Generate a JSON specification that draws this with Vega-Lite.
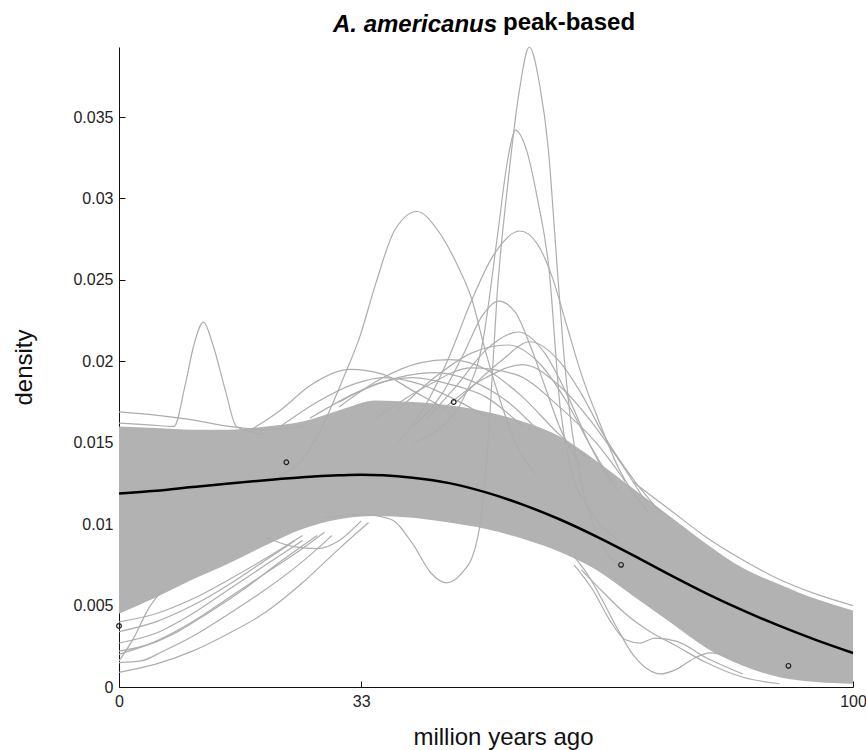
{
  "$schema": "https://vega.github.io/schema/vega-lite/v6.json",
  "width": 734,
  "height": 640,
  "autosize": "none",
  "padding": {"left": 119, "top": 47, "right": 13, "bottom": 63},
  "background": "white",
  "config": {
    "view": {"stroke": null},
    "font": "Liberation Sans",
    "axis": {"grid": false, "domainColor": "#111", "tickColor": "#111", "labelColor": "#222", "titleColor": "#111", "labelFont": "Liberation Sans", "titleFont": "Liberation Sans", "labelFontSize": 16, "titleFontSize": 24, "titleFontWeight": "normal", "tickSize": -6, "labelFlush": false, "labelOverlap": false}
  },
  "title": {
    "text": "peak-based",
    "anchor": "start",
    "frame": "group",
    "dx": 384,
    "offset": -23,
    "font": "Liberation Sans",
    "fontSize": 24,
    "fontWeight": "bold",
    "color": "#000"
  },
  "datasets": {
    "band": [
      {"x": 0, "lo": 0.0045, "hi": 0.0160},
      {"x": 5, "lo": 0.0055, "hi": 0.0159},
      {"x": 10, "lo": 0.0066, "hi": 0.0158},
      {"x": 15, "lo": 0.0076, "hi": 0.0158},
      {"x": 20, "lo": 0.0087, "hi": 0.0160},
      {"x": 25, "lo": 0.0097, "hi": 0.0163},
      {"x": 30, "lo": 0.0103, "hi": 0.0170},
      {"x": 35, "lo": 0.0105, "hi": 0.0176},
      {"x": 40, "lo": 0.0104, "hi": 0.0175},
      {"x": 45, "lo": 0.0101, "hi": 0.0173},
      {"x": 50, "lo": 0.0097, "hi": 0.0169},
      {"x": 55, "lo": 0.0091, "hi": 0.0163},
      {"x": 60, "lo": 0.0083, "hi": 0.0154},
      {"x": 65, "lo": 0.0072, "hi": 0.0139},
      {"x": 70, "lo": 0.0056, "hi": 0.0122},
      {"x": 75, "lo": 0.0040, "hi": 0.0105},
      {"x": 80, "lo": 0.0024, "hi": 0.0088},
      {"x": 85, "lo": 0.0013, "hi": 0.0073},
      {"x": 90, "lo": 0.0006, "hi": 0.0063},
      {"x": 95, "lo": 0.0003, "hi": 0.0054},
      {"x": 100, "lo": 0.0002, "hi": 0.0047}
    ],
    "mean": [
      {"x": 0, "y": 0.01188}, {"x": 5, "y": 0.01205}, {"x": 10, "y": 0.01228}, {"x": 15, "y": 0.01250},
      {"x": 20, "y": 0.01270}, {"x": 25, "y": 0.01288}, {"x": 30, "y": 0.01300}, {"x": 33, "y": 0.01304},
      {"x": 36, "y": 0.01300}, {"x": 40, "y": 0.01285}, {"x": 45, "y": 0.01252}, {"x": 50, "y": 0.01195},
      {"x": 55, "y": 0.01120}, {"x": 60, "y": 0.01030}, {"x": 65, "y": 0.00925}, {"x": 70, "y": 0.00810},
      {"x": 75, "y": 0.00690}, {"x": 80, "y": 0.00575}, {"x": 85, "y": 0.00470}, {"x": 90, "y": 0.00375},
      {"x": 95, "y": 0.00288}, {"x": 100, "y": 0.00209}
    ],
    "curves": [
      {"c": "c1", "x": 0, "y": 0.0162}, {"c": "c1", "x": 4, "y": 0.0161}, {"c": "c1", "x": 7.5, "y": 0.0160}, {"c": "c1", "x": 9, "y": 0.0185}, {"c": "c1", "x": 10.2, "y": 0.0210}, {"c": "c1", "x": 11.5, "y": 0.0224}, {"c": "c1", "x": 12.8, "y": 0.0210}, {"c": "c1", "x": 14.5, "y": 0.0182}, {"c": "c1", "x": 16, "y": 0.0160}, {"c": "c1", "x": 20, "y": 0.0155},
      {"c": "c2", "x": 28, "y": 0.0104}, {"c": "c2", "x": 33, "y": 0.0106}, {"c": "c2", "x": 37, "y": 0.0103}, {"c": "c2", "x": 40, "y": 0.0088}, {"c": "c2", "x": 42.5, "y": 0.0070}, {"c": "c2", "x": 44.6, "y": 0.0064}, {"c": "c2", "x": 46.5, "y": 0.0069}, {"c": "c2", "x": 48.5, "y": 0.0085}, {"c": "c2", "x": 49.5, "y": 0.0110}, {"c": "c2", "x": 50.5, "y": 0.0165}, {"c": "c2", "x": 51.5, "y": 0.0240}, {"c": "c2", "x": 53, "y": 0.0310}, {"c": "c2", "x": 54.5, "y": 0.0365}, {"c": "c2", "x": 55.9, "y": 0.0393}, {"c": "c2", "x": 57.3, "y": 0.0370}, {"c": "c2", "x": 58.5, "y": 0.0330}, {"c": "c2", "x": 59.5, "y": 0.0270}, {"c": "c2", "x": 60.5, "y": 0.0210}, {"c": "c2", "x": 61.5, "y": 0.0165}, {"c": "c2", "x": 63, "y": 0.0125}, {"c": "c2", "x": 65, "y": 0.0095}, {"c": "c2", "x": 68, "y": 0.0075},
      {"c": "c3", "x": 40, "y": 0.0150}, {"c": "c3", "x": 44, "y": 0.0160}, {"c": "c3", "x": 47, "y": 0.0178}, {"c": "c3", "x": 49.6, "y": 0.0213}, {"c": "c3", "x": 51.5, "y": 0.0275}, {"c": "c3", "x": 53, "y": 0.0325}, {"c": "c3", "x": 54, "y": 0.0342}, {"c": "c3", "x": 55.5, "y": 0.0330}, {"c": "c3", "x": 57, "y": 0.0300}, {"c": "c3", "x": 58.6, "y": 0.0256}, {"c": "c3", "x": 60.1, "y": 0.0172}, {"c": "c3", "x": 61.5, "y": 0.0135}, {"c": "c3", "x": 64, "y": 0.0110}, {"c": "c3", "x": 68, "y": 0.0090},
      {"c": "c4", "x": 38, "y": 0.0150}, {"c": "c4", "x": 42, "y": 0.0175}, {"c": "c4", "x": 45, "y": 0.0203}, {"c": "c4", "x": 48, "y": 0.0237}, {"c": "c4", "x": 51, "y": 0.0265}, {"c": "c4", "x": 54.6, "y": 0.0280}, {"c": "c4", "x": 57, "y": 0.0272}, {"c": "c4", "x": 59, "y": 0.0252}, {"c": "c4", "x": 61, "y": 0.0222}, {"c": "c4", "x": 63, "y": 0.0192}, {"c": "c4", "x": 65.5, "y": 0.0162}, {"c": "c4", "x": 68, "y": 0.0135}, {"c": "c4", "x": 72, "y": 0.0108},
      {"c": "c5", "x": 22, "y": 0.0130}, {"c": "c5", "x": 25, "y": 0.0140}, {"c": "c5", "x": 28, "y": 0.0163}, {"c": "c5", "x": 30.5, "y": 0.0189}, {"c": "c5", "x": 32.8, "y": 0.0215}, {"c": "c5", "x": 35, "y": 0.0248}, {"c": "c5", "x": 37.5, "y": 0.0280}, {"c": "c5", "x": 40.6, "y": 0.0292}, {"c": "c5", "x": 43.5, "y": 0.0280}, {"c": "c5", "x": 46, "y": 0.0260}, {"c": "c5", "x": 48, "y": 0.0239}, {"c": "c5", "x": 50, "y": 0.0205}, {"c": "c5", "x": 52, "y": 0.0175}, {"c": "c5", "x": 54, "y": 0.0150}, {"c": "c5", "x": 57, "y": 0.0130},
      {"c": "c6", "x": 40, "y": 0.0160}, {"c": "c6", "x": 44, "y": 0.0180}, {"c": "c6", "x": 47, "y": 0.0205}, {"c": "c6", "x": 49.5, "y": 0.0228}, {"c": "c6", "x": 51.7, "y": 0.0237}, {"c": "c6", "x": 54, "y": 0.0230}, {"c": "c6", "x": 56, "y": 0.0210}, {"c": "c6", "x": 58, "y": 0.0185}, {"c": "c6", "x": 60, "y": 0.0160}, {"c": "c6", "x": 63, "y": 0.0135},
      {"c": "c7", "x": 42, "y": 0.0165}, {"c": "c7", "x": 46, "y": 0.0185}, {"c": "c7", "x": 50, "y": 0.0207}, {"c": "c7", "x": 54.4, "y": 0.0218}, {"c": "c7", "x": 58, "y": 0.0205}, {"c": "c7", "x": 61, "y": 0.0180}, {"c": "c7", "x": 64, "y": 0.0150}, {"c": "c7", "x": 67, "y": 0.0125},
      {"c": "c8", "x": 38, "y": 0.0170}, {"c": "c8", "x": 43, "y": 0.0190}, {"c": "c8", "x": 48, "y": 0.0205}, {"c": "c8", "x": 53, "y": 0.0210}, {"c": "c8", "x": 57, "y": 0.0200}, {"c": "c8", "x": 61, "y": 0.0175}, {"c": "c8", "x": 64, "y": 0.0150}, {"c": "c8", "x": 68, "y": 0.0120},
      {"c": "c9", "x": 18, "y": 0.0158}, {"c": "c9", "x": 22, "y": 0.0170}, {"c": "c9", "x": 26, "y": 0.0185}, {"c": "c9", "x": 31.5, "y": 0.0195}, {"c": "c9", "x": 36, "y": 0.0192}, {"c": "c9", "x": 40, "y": 0.0182}, {"c": "c9", "x": 44, "y": 0.0172},
      {"c": "c10", "x": 22, "y": 0.0160}, {"c": "c10", "x": 27, "y": 0.0175}, {"c": "c10", "x": 32, "y": 0.0186}, {"c": "c10", "x": 36, "y": 0.0190}, {"c": "c10", "x": 41, "y": 0.0186}, {"c": "c10", "x": 46, "y": 0.0176}, {"c": "c10", "x": 50, "y": 0.0166},
      {"c": "c11", "x": 30, "y": 0.0172}, {"c": "c11", "x": 36, "y": 0.0190}, {"c": "c11", "x": 41, "y": 0.0199}, {"c": "c11", "x": 45, "y": 0.0201}, {"c": "c11", "x": 50, "y": 0.0195}, {"c": "c11", "x": 55, "y": 0.0178}, {"c": "c11", "x": 60, "y": 0.0155}, {"c": "c11", "x": 64, "y": 0.0140},
      {"c": "c12", "x": 26, "y": 0.0165}, {"c": "c12", "x": 32, "y": 0.0180}, {"c": "c12", "x": 38, "y": 0.0190}, {"c": "c12", "x": 43, "y": 0.0193}, {"c": "c12", "x": 48, "y": 0.0188}, {"c": "c12", "x": 53, "y": 0.0175}, {"c": "c12", "x": 57, "y": 0.0158},
      {"c": "c13", "x": 0, "y": 0.0169}, {"c": "c13", "x": 5, "y": 0.0167}, {"c": "c13", "x": 10, "y": 0.0164}, {"c": "c13", "x": 15, "y": 0.0160}, {"c": "c13", "x": 20, "y": 0.0158}, {"c": "c13", "x": 25, "y": 0.0160},
      {"c": "c14", "x": 35, "y": 0.0165}, {"c": "c14", "x": 42, "y": 0.0185}, {"c": "c14", "x": 48, "y": 0.0196}, {"c": "c14", "x": 54, "y": 0.0192}, {"c": "c14", "x": 60, "y": 0.0172}, {"c": "c14", "x": 65, "y": 0.0150}, {"c": "c14", "x": 69, "y": 0.0126},
      {"c": "c15", "x": 44, "y": 0.0170}, {"c": "c15", "x": 50, "y": 0.0190}, {"c": "c15", "x": 55, "y": 0.0198}, {"c": "c15", "x": 60, "y": 0.0185}, {"c": "c15", "x": 64, "y": 0.0165}, {"c": "c15", "x": 68, "y": 0.0140}, {"c": "c15", "x": 72, "y": 0.0112},
      {"c": "c16", "x": 30, "y": 0.0175}, {"c": "c16", "x": 35, "y": 0.0186}, {"c": "c16", "x": 40, "y": 0.0190}, {"c": "c16", "x": 45, "y": 0.0186}, {"c": "c16", "x": 50, "y": 0.0178}, {"c": "c16", "x": 55, "y": 0.0160},
      {"c": "c17", "x": 46, "y": 0.0175}, {"c": "c17", "x": 52, "y": 0.0200}, {"c": "c17", "x": 56, "y": 0.0212}, {"c": "c17", "x": 60, "y": 0.0200}, {"c": "c17", "x": 63, "y": 0.0180}, {"c": "c17", "x": 66, "y": 0.0155}, {"c": "c17", "x": 70, "y": 0.0128}, {"c": "c17", "x": 74, "y": 0.0106},
      {"c": "d1", "x": 0, "y": 0.0009}, {"c": "d1", "x": 5, "y": 0.0014}, {"c": "d1", "x": 10, "y": 0.0022}, {"c": "d1", "x": 15, "y": 0.0033}, {"c": "d1", "x": 20, "y": 0.0046}, {"c": "d1", "x": 25, "y": 0.0064}, {"c": "d1", "x": 30, "y": 0.0085}, {"c": "d1", "x": 34, "y": 0.0101},
      {"c": "d2", "x": 0, "y": 0.0015}, {"c": "d2", "x": 3, "y": 0.0016}, {"c": "d2", "x": 6, "y": 0.0022}, {"c": "d2", "x": 10, "y": 0.0031}, {"c": "d2", "x": 15, "y": 0.0045}, {"c": "d2", "x": 20, "y": 0.0060}, {"c": "d2", "x": 25, "y": 0.0077}, {"c": "d2", "x": 29, "y": 0.0093},
      {"c": "d3", "x": 0, "y": 0.0022}, {"c": "d3", "x": 4, "y": 0.0026}, {"c": "d3", "x": 8, "y": 0.0034}, {"c": "d3", "x": 12, "y": 0.0045}, {"c": "d3", "x": 17, "y": 0.0060}, {"c": "d3", "x": 22, "y": 0.0077}, {"c": "d3", "x": 27, "y": 0.0093},
      {"c": "d4", "x": 0, "y": 0.0027}, {"c": "d4", "x": 5, "y": 0.0033}, {"c": "d4", "x": 10, "y": 0.0045}, {"c": "d4", "x": 15, "y": 0.0060}, {"c": "d4", "x": 20, "y": 0.0075}, {"c": "d4", "x": 25, "y": 0.0090},
      {"c": "d5", "x": 0, "y": 0.0016}, {"c": "d5", "x": 2, "y": 0.0030}, {"c": "d5", "x": 4, "y": 0.0048}, {"c": "d5", "x": 6, "y": 0.0060},
      {"c": "d6", "x": 0, "y": 0.0040}, {"c": "d6", "x": 5, "y": 0.0045}, {"c": "d6", "x": 10, "y": 0.0054}, {"c": "d6", "x": 15, "y": 0.0066}, {"c": "d6", "x": 20, "y": 0.0079}, {"c": "d6", "x": 25, "y": 0.0093},
      {"c": "d7", "x": 20, "y": 0.0092}, {"c": "d7", "x": 24, "y": 0.0086}, {"c": "d7", "x": 27, "y": 0.0085}, {"c": "d7", "x": 30, "y": 0.0090}, {"c": "d7", "x": 33, "y": 0.0102},
      {"c": "d8", "x": 0, "y": 0.0034}, {"c": "d8", "x": 5, "y": 0.0040}, {"c": "d8", "x": 10, "y": 0.0050}, {"c": "d8", "x": 15, "y": 0.0063}, {"c": "d8", "x": 20, "y": 0.0078}, {"c": "d8", "x": 24, "y": 0.0090},
      {"c": "d9", "x": 0, "y": 0.0020}, {"c": "d9", "x": 5, "y": 0.0028}, {"c": "d9", "x": 10, "y": 0.0040}, {"c": "d9", "x": 15, "y": 0.0055}, {"c": "d9", "x": 20, "y": 0.0070}, {"c": "d9", "x": 25, "y": 0.0085}, {"c": "d9", "x": 28, "y": 0.0095},
      {"c": "e1", "x": 62, "y": 0.0080}, {"c": "e1", "x": 64, "y": 0.0068}, {"c": "e1", "x": 66, "y": 0.0052}, {"c": "e1", "x": 68, "y": 0.0035}, {"c": "e1", "x": 70, "y": 0.0020}, {"c": "e1", "x": 72, "y": 0.0011}, {"c": "e1", "x": 73.7, "y": 0.0008}, {"c": "e1", "x": 76, "y": 0.0011}, {"c": "e1", "x": 78.5, "y": 0.0018}, {"c": "e1", "x": 80.5, "y": 0.0021}, {"c": "e1", "x": 83, "y": 0.0019},
      {"c": "e2", "x": 62, "y": 0.0075}, {"c": "e2", "x": 64.5, "y": 0.0060}, {"c": "e2", "x": 67, "y": 0.0040}, {"c": "e2", "x": 69, "y": 0.0029}, {"c": "e2", "x": 71, "y": 0.0027}, {"c": "e2", "x": 73, "y": 0.0030}, {"c": "e2", "x": 76, "y": 0.0028}, {"c": "e2", "x": 80, "y": 0.0018}, {"c": "e2", "x": 85, "y": 0.0008},
      {"c": "e3", "x": 63, "y": 0.0072}, {"c": "e3", "x": 66, "y": 0.0058}, {"c": "e3", "x": 69, "y": 0.0045}, {"c": "e3", "x": 72, "y": 0.0035}, {"c": "e3", "x": 76, "y": 0.0025}, {"c": "e3", "x": 80, "y": 0.0015}, {"c": "e3", "x": 85, "y": 0.0006}, {"c": "e3", "x": 90, "y": 0.0002},
      {"c": "e4", "x": 70, "y": 0.0126}, {"c": "e4", "x": 75, "y": 0.0109}, {"c": "e4", "x": 80, "y": 0.0092}, {"c": "e4", "x": 85, "y": 0.0078}, {"c": "e4", "x": 90, "y": 0.0066}, {"c": "e4", "x": 95, "y": 0.0057}, {"c": "e4", "x": 100, "y": 0.0050}
    ],
    "points": [
      {"x": 0, "y": 0.00375},
      {"x": 22.8, "y": 0.0138},
      {"x": 45.6, "y": 0.0175},
      {"x": 68.4, "y": 0.0075},
      {"x": 91.2, "y": 0.0013}
    ]
  },
  "layer": [
    {
      "data": {"name": "band"},
      "mark": {"type": "area", "color": "#b2b2b2", "interpolate": "monotone", "opacity": 1},
      "encoding": {
        "x": {"field": "x", "type": "quantitative", "scale": {"domain": [0, 100], "nice": false},
          "axis": {"orient": "bottom", "values": [0, 33, 100], "format": "d", "labelPadding": 12, "title": "million years ago", "titlePadding": 16, "titleX": 384}},
        "y": {"field": "lo", "type": "quantitative", "scale": {"domain": [0, 0.0393], "nice": false, "zero": true},
          "axis": {"values": [0, 0.005, 0.01, 0.015, 0.02, 0.025, 0.03, 0.035], "format": "~g", "labelPadding": 12, "title": "density", "titlePadding": 36}},
        "y2": {"field": "hi"}
      }
    },
    {
      "data": {"name": "curves"},
      "mark": {"type": "line", "color": "#adadad", "strokeWidth": 1.2, "interpolate": "monotone"},
      "encoding": {
        "x": {"field": "x", "type": "quantitative", "axis": null},
        "y": {"field": "y", "type": "quantitative"},
        "detail": {"field": "c"}
      }
    },
    {
      "data": {"name": "mean"},
      "mark": {"type": "line", "color": "#000", "strokeWidth": 2.5, "interpolate": "monotone"},
      "encoding": {
        "x": {"field": "x", "type": "quantitative", "axis": null},
        "y": {"field": "y", "type": "quantitative"}
      }
    },
    {
      "mark": {"type": "rule", "color": "#000", "strokeWidth": 2.5, "strokeDash": [12, 5]},
      "encoding": {"x": {"datum": 33, "type": "quantitative", "axis": null}}
    },
    {
      "mark": {"type": "rule", "color": "#222", "strokeWidth": 2, "strokeDash": [2, 4]},
      "encoding": {"x": {"datum": 48, "type": "quantitative",
        "axis": {"orient": "top", "title": "A. americanus", "labels": false, "ticks": false, "domain": false, "values": [],
          "titleFontStyle": "italic", "titleFontWeight": "bold", "titleFontSize": 24, "titleColor": "#000",
          "titleX": 295.5, "titleY": -16, "titleBaseline": "alphabetic", "titleAlign": "center", "titleAnchor": null}}}
    },
    {
      "data": {"name": "points"},
      "mark": {"type": "point", "shape": "circle", "filled": false, "color": "#222", "size": 22, "strokeWidth": 1.2, "opacity": 1},
      "encoding": {
        "x": {"field": "x", "type": "quantitative", "axis": null},
        "y": {"field": "y", "type": "quantitative"}
      }
    }
  ]
}
